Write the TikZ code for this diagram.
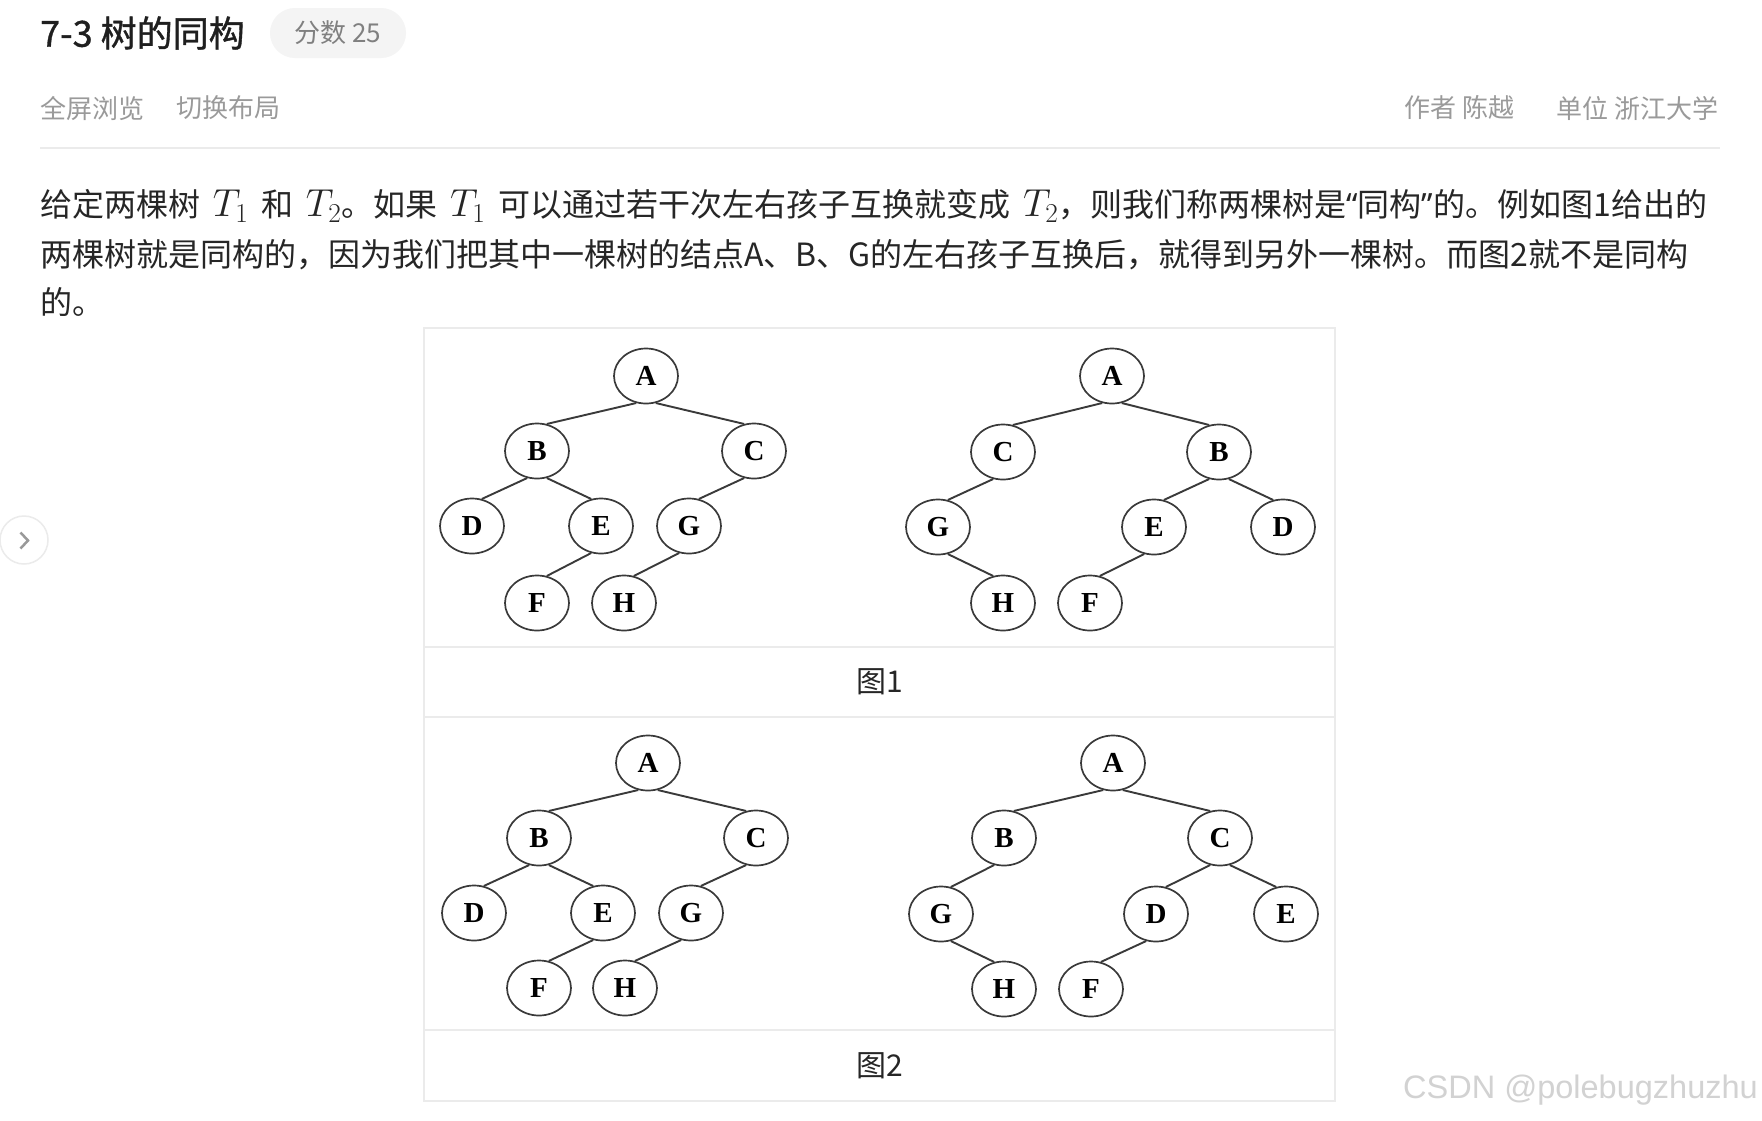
\RequirePackage{fix-cm}
\documentclass[tikz,border=0pt]{standalone}
\usepackage{fontspec}
\setmainfont{Noto Sans CJK SC}
\newfontfamily\headfont{Noto Sans CJK SC}[FakeBold=1]
\newfontfamily\treefont{Liberation Serif}
\newfontfamily\markfont{Liberation Sans}
\newfontfamily\quotefont{Noto Sans}
\usetikzlibrary{shapes.geometric}
\definecolor{inkgray}{HTML}{262626}
\definecolor{softgray}{HTML}{9A9A9A}
\definecolor{rulegray}{HTML}{EBEBEB}
\definecolor{treegray}{HTML}{3A3A3A}
\newcommand\tsym[1]{{\fontsize{39}{40}\selectfont$T_{#1}$}}
\tikzset{vert/.style={ellipse,draw=treegray,line width=1.7pt,minimum width=64pt,minimum height=55pt,inner sep=0pt,font=\treefont\bfseries\fontsize{29}{29}\selectfont},
 link/.style={draw=treegray,line width=1.9pt},
 rule/.style={draw=rulegray,line width=2pt},
 meta/.style={inner sep=0pt,text=softgray,font=\fontsize{26}{30}\selectfont},
 para/.style={inner sep=0pt,anchor=west,text=inkgray,font=\fontsize{32}{38}\selectfont}}

\begin{document}
\begin{tikzpicture}[x=1pt,y=-1pt]
 \useasboundingbox[fill=white] (0,0) rectangle (1762,1120);
 % header
 \node[inner sep=0pt,anchor=west,text=black!88,font=\headfont\fontsize{36}{40}\selectfont] (title) at (40,33) {7-3 树的同构};
 \node[fill=gray!9,rounded corners=25pt,minimum width=136pt,minimum height=50pt,text=gray,font=\fontsize{26}{30}\selectfont] (score) at (338,33) {分数 25};
 \node[meta,anchor=west] (full) at (40,108) {全屏浏览};
 \node[meta,anchor=west] (layout) at (176,108) {切换布局};
 \node[meta,anchor=east] (author) at (1515,108) {作者 陈越};
 \node[meta,anchor=east] (unit) at (1719,108) {单位 浙江大学};
 \draw[rule] (40,148) -- (1720,148);
 % text
 \node[para] (l1) at (40,206) {\makebox[1667pt][s]{给定两棵树 \tsym{1} 和 \tsym{2}。如果 \tsym{1} 可以通过若干次左右孩子互换就变成 \tsym{2}，则我们称两棵树是{\quotefont“}同构{\quotefont”}的。例如图1给出的}};
 \node[para] (l2) at (40,255) {两棵树就是同构的，因为我们把其中一棵树的结点A、B、G的左右孩子互换后，就得到另外一棵树。而图2就不是同构};
 \node[para] (l3) at (40,302) {的。};
 % figure frame
 \draw[rule] (424,328) rectangle (1335,1101);
 \foreach \yy in {647,717,1030}
  \draw[rule] (424,\yy) -- (1335,\yy);
 \node[inner sep=0pt,text=inkgray,font=\fontsize{30}{34}\selectfont] (cap1) at (880,682) {图1};
 \node[inner sep=0pt,text=inkgray,font=\fontsize{30}{34}\selectfont] (cap2) at (880,1066) {图2};
 % trees
 \foreach \n/\xx/\yy/\t in {pA/646/376/A,pB/537/451/B,pC/754/451/C,pD/472/526/D,pE/601/526/E,pG/689/526/G,pF/537/603/F,pH/624/603/H,
   qA/1112/376/A,qC/1003/452/C,qB/1219/452/B,qG/938/527/G,qE/1154/527/E,qD/1283/527/D,qH/1003/603/H,qF/1090/603/F,
   rA/648/763/A,rB/539/838/B,rC/756/838/C,rD/474/913/D,rE/603/913/E,rG/691/913/G,rF/539/988/F,rH/625/988/H,
   sA/1113/763/A,sB/1004/838/B,sC/1220/838/C,sG/941/914/G,sD/1156/914/D,sE/1286/914/E,sH/1004/989/H,sF/1091/989/F}
  \node[vert] (\n) at (\xx,\yy) {\t};
 \foreach \u/\v/\a/\b in {pA/pB/250/70,pA/pC/290/110,pB/pD/250/70,pB/pE/290/110,pC/pG/250/70,pE/pF/250/70,pG/pH/250/70,
   qA/qC/250/70,qA/qB/290/110,qC/qG/250/70,qB/qE/250/70,qB/qD/290/110,qG/qH/290/110,qE/qF/250/70,
   rA/rB/250/70,rA/rC/290/110,rB/rD/250/70,rB/rE/290/110,rC/rG/250/70,rE/rF/250/70,rG/rH/250/70,
   sA/sB/250/70,sA/sC/290/110,sB/sG/250/70,sC/sD/250/70,sC/sE/290/110,sG/sH/290/110,sD/sF/250/70}
  \draw[link] (\u.\a) -- (\v.\b);
 % side button and watermark
 \node[circle,draw=rulegray,line width=1.5pt,minimum size=48pt,inner sep=0pt] (side) at (24,540) {};
 \draw[gray!80,line width=2.5pt] (20.5,532.5) -- (28,540.5) -- (20.5,548.5);
 \node[inner sep=0pt,anchor=east,text=gray!35,font=\markfont\fontsize{32.5}{35}\selectfont] (mark) at (1758,1090) {CSDN @polebugzhuzhu};
\end{tikzpicture}
\end{document}
